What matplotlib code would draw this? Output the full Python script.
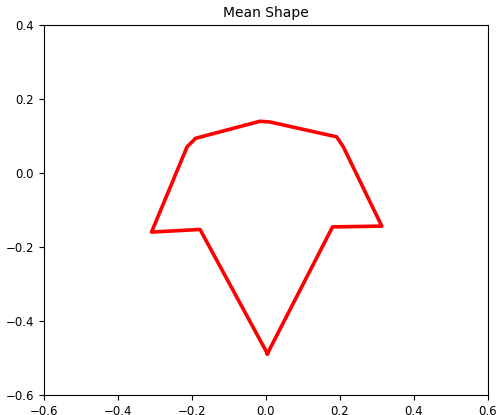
import matplotlib
matplotlib.use("Agg")
import matplotlib.pyplot as plt

x_vals = [0.004, 0.180, 0.313, 0.209, 0.191, 0.011, -0.016, -0.190, -0.213, -0.309, -0.178, 0.004]
y_vals = [-0.487, -0.145, -0.143, 0.071, 0.098, 0.138, 0.140, 0.094, 0.071, -0.159, -0.152, -0.487]
x_ticks = [-0.6, -0.4, -0.2, 0.0, 0.2, 0.4, 0.6]
y_ticks = [-0.6, -0.4, -0.2, 0.0, 0.2, 0.4]

fig = plt.figure(figsize=(4.98, 4.15), dpi=100)
ax = fig.add_axes([0.088, 0.047, 0.892, 0.893])
ax.plot(x_vals, y_vals, color="red", linewidth=2.6)
ax.set_xlim(-0.6, 0.6)
ax.set_ylim(-0.6, 0.4)
ax.set_xticks(x_ticks)
ax.set_yticks(y_ticks)
ax.tick_params(labelsize=8.5)
ax.set_title("Mean Shape", fontsize=10)
fig.savefig("out.png", dpi=100)
